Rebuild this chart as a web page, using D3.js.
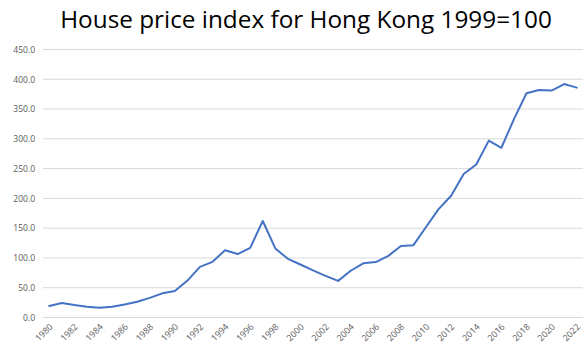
<!DOCTYPE html>
<html>
<head>
<meta charset="utf-8">
<script src="https://cdn.jsdelivr.net/npm/d3@7"></script>
<style>
  html, body { margin: 0; padding: 0; background: #fff; }
  svg { display: block; }
</style>
</head>
<body>
<svg id="chart" width="584" height="349"></svg>
<script>
// House price index, Hong Kong (1999 = 100)
const years = d3.range(1980, 2023);
const indexValues = [
  19.3, 24.5, 21.0, 18.0, 16.5, 18.0, 22.0, 26.5, 33.0, 40.6,
  44.5, 62.0, 85.0, 93.5, 113.0, 106.5, 117.0, 162.0, 116.0, 98.5,
  89.0, 79.0, 70.0, 61.5, 78.5, 91.0, 93.0, 103.5, 120.0, 121.5,
  152.0, 182.0, 204.5, 241.0, 257.0, 297.0, 285.0, 333.0, 376.5, 382.0,
  381.0, 392.0, 386.0
];
const yTicks = [0, 50, 100, 150, 200, 250, 300, 350, 400, 450];
const xTickYears = years.filter(y => y % 2 === 0);
const titleText = "House price index for Hong Kong 1999=100";

const svg = d3.select("#chart");
const margin = { left: 43, right: 1, top: 49.5, bottom: 31.5 };
const W = 584, H = 349;

const x = d3.scaleBand()
  .domain(years)
  .range([margin.left, W - margin.right]);
const y = d3.scaleLinear()
  .domain([0, 450])
  .range([H - margin.bottom, margin.top]);

// horizontal gridlines
svg.append("g")
  .selectAll("line")
  .data(yTicks)
  .join("line")
  .attr("x1", margin.left)
  .attr("x2", W - margin.right)
  .attr("y1", d => y(d))
  .attr("y2", d => y(d))
  .attr("stroke", "#d9d9d9")
  .attr("stroke-width", 1);

// y axis labels
const yAxis = d3.axisLeft(y).tickValues(yTicks).tickFormat(d3.format(".1f")).tickSize(0).tickPadding(8);
svg.append("g")
  .attr("transform", `translate(${margin.left},0)`)
  .call(yAxis)
  .call(g => g.select(".domain").remove())
  .call(g => g.selectAll("text")
    .attr("fill", "#595959")
    .attr("font-family", "'Open Sans', 'DejaVu Sans', sans-serif")
    .attr("font-size", "8.5px"));

// x axis labels, every other year, rotated
const xAxis = d3.axisBottom(x).tickValues(xTickYears).tickSize(0).tickPadding(0);
svg.append("g")
  .attr("transform", `translate(0,${y(0)})`)
  .call(xAxis)
  .call(g => g.select(".domain").remove())
  .call(g => g.selectAll("text")
    .attr("fill", "#595959")
    .attr("font-family", "'Open Sans', 'DejaVu Sans', sans-serif")
    .attr("font-size", "8.8px")
    .attr("text-anchor", "end")
    .attr("dy", "0")
    .attr("transform", "translate(4,10) rotate(-45)"));

// index line
const line = d3.line()
  .x((d, i) => x(years[i]) + x.bandwidth() / 2)
  .y(d => y(d));
svg.append("path")
  .datum(indexValues)
  .attr("fill", "none")
  .attr("stroke", "#4472c4")
  .attr("stroke-width", 2)
  .attr("stroke-linejoin", "round")
  .attr("stroke-linecap", "round")
  .attr("d", line);

// title
const title = svg.append("text")
  .attr("x", 306)
  .attr("y", 28)
  .attr("text-anchor", "middle")
  .attr("fill", "#000")
  .attr("font-family", "'Open Sans', 'Liberation Sans', sans-serif")
  .attr("font-size", "22px")
  .text(titleText);
const tw = title.node().getComputedTextLength();
title.attr("font-size", (22 * 492 / tw).toFixed(2) + "px");
</script>
</body>
</html>
